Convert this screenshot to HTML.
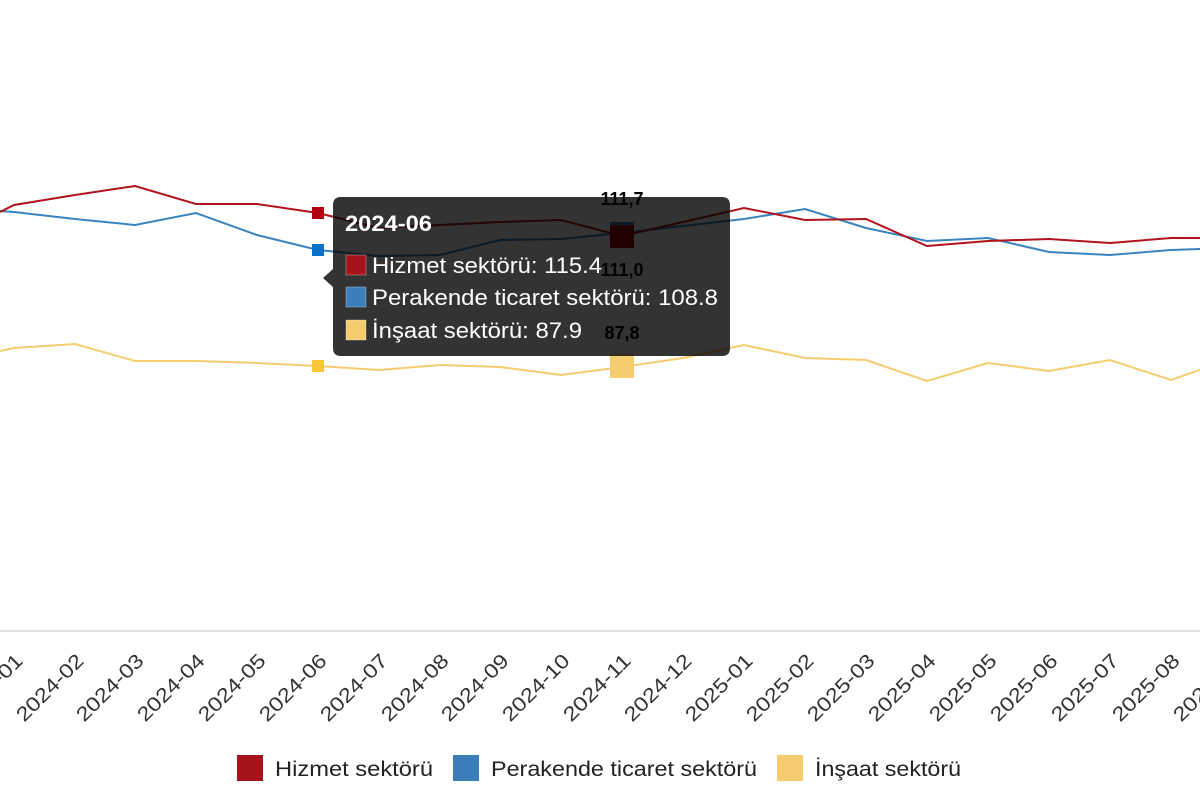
<!DOCTYPE html>
<html><head><meta charset="utf-8"><style>
body{margin:0;background:#fff;}
svg{display:block;font-family:"Liberation Sans",sans-serif;}
</style></head><body>
<svg width="1200" height="800" viewBox="0 0 1200 800">
<line x1="0" y1="631" x2="1200" y2="631" stroke="#e0e0e0" stroke-width="2"/>
<polyline fill="none" stroke="#f5cd6e" stroke-width="2" points="0,351 14,348 75,344 135,361 196,361 257,363 318,366 379,370 440,365 500,367 561,375 622,367 683,358 744,345 805,358 866,360 927,381 988,363 1049,371 1110,360 1171,380 1200,370"/>
<polyline fill="none" stroke="#3a84c0" stroke-width="2" points="0,211 14,212 75,219 135,225 196,213 257,235 318,250 379,256 440,255 500,240 561,239 622,233 683,226 744,219 805,209 866,228 927,241 988,238 1049,252 1110,255 1171,250 1200,249"/>
<polyline fill="none" stroke="#b0141c" stroke-width="2" points="0,212 14,205 75,195 135,186 196,204 257,204 318,213 379,228 440,225 500,222 561,220 622,236 683,222 744,208 805,220 866,219 927,246 988,241 1049,239 1110,243 1171,238 1200,238"/>
<rect x="312" y="207" width="12" height="12" fill="#b00010"/>
<rect x="312" y="244" width="12" height="12" fill="#0a72c8"/>
<rect x="312" y="360" width="12" height="12" fill="#fcc53a"/>
<rect x="610" y="354" width="24" height="24" fill="#f5cd6e"/>
<g font-weight="bold" font-size="18" fill="#000" text-anchor="middle">
<text x="622" y="205">111,7</text>
<text x="622" y="276">111,0</text>
<text x="622" y="339">87,8</text>
</g>
<g>
<path d="M341,197 H722 Q730,197 730,205 V348 Q730,356 722,356 H341 Q333,356 333,348 V287 L323,278 L333,269 V205 Q333,197 341,197 Z" fill="rgba(0,0,0,0.8)"/>
<rect x="610" y="222" width="24" height="26" fill="#220000"/>
<rect x="610" y="222" width="24" height="3" fill="#0a1a28"/>
<text x="345" y="231" font-size="22" font-weight="bold" fill="#fff" textLength="87" lengthAdjust="spacingAndGlyphs">2024-06</text>
<rect x="346" y="255" width="20" height="20" fill="#a8141c" stroke="#fff" stroke-opacity="0.3"/>
<text x="372" y="273" font-size="22" fill="#fff" textLength="230" lengthAdjust="spacingAndGlyphs">Hizmet sektörü: 115.4</text>
<rect x="346" y="287" width="20" height="20" fill="#3a7fbb" stroke="#fff" stroke-opacity="0.3"/>
<text x="372" y="305" font-size="22" fill="#fff" textLength="346" lengthAdjust="spacingAndGlyphs">Perakende ticaret sektörü: 108.8</text>
<rect x="346" y="320" width="20" height="20" fill="#f5cd6e" stroke="#fff" stroke-opacity="0.3"/>
<text x="372" y="338" font-size="22" fill="#fff" textLength="210" lengthAdjust="spacingAndGlyphs">İnşaat sektörü: 87.9</text>
</g>
<g font-size="20" fill="#333" text-anchor="end">
<text transform="translate(24,662) rotate(-45)" textLength="86" lengthAdjust="spacingAndGlyphs">2024-01</text>
<text transform="translate(85,662) rotate(-45)" textLength="86" lengthAdjust="spacingAndGlyphs">2024-02</text>
<text transform="translate(145,662) rotate(-45)" textLength="86" lengthAdjust="spacingAndGlyphs">2024-03</text>
<text transform="translate(206,662) rotate(-45)" textLength="86" lengthAdjust="spacingAndGlyphs">2024-04</text>
<text transform="translate(267,662) rotate(-45)" textLength="86" lengthAdjust="spacingAndGlyphs">2024-05</text>
<text transform="translate(328,662) rotate(-45)" textLength="86" lengthAdjust="spacingAndGlyphs">2024-06</text>
<text transform="translate(389,662) rotate(-45)" textLength="86" lengthAdjust="spacingAndGlyphs">2024-07</text>
<text transform="translate(450,662) rotate(-45)" textLength="86" lengthAdjust="spacingAndGlyphs">2024-08</text>
<text transform="translate(510,662) rotate(-45)" textLength="86" lengthAdjust="spacingAndGlyphs">2024-09</text>
<text transform="translate(571,662) rotate(-45)" textLength="86" lengthAdjust="spacingAndGlyphs">2024-10</text>
<text transform="translate(632,662) rotate(-45)" textLength="86" lengthAdjust="spacingAndGlyphs">2024-11</text>
<text transform="translate(693,662) rotate(-45)" textLength="86" lengthAdjust="spacingAndGlyphs">2024-12</text>
<text transform="translate(754,662) rotate(-45)" textLength="86" lengthAdjust="spacingAndGlyphs">2025-01</text>
<text transform="translate(815,662) rotate(-45)" textLength="86" lengthAdjust="spacingAndGlyphs">2025-02</text>
<text transform="translate(876,662) rotate(-45)" textLength="86" lengthAdjust="spacingAndGlyphs">2025-03</text>
<text transform="translate(937,662) rotate(-45)" textLength="86" lengthAdjust="spacingAndGlyphs">2025-04</text>
<text transform="translate(998,662) rotate(-45)" textLength="86" lengthAdjust="spacingAndGlyphs">2025-05</text>
<text transform="translate(1059,662) rotate(-45)" textLength="86" lengthAdjust="spacingAndGlyphs">2025-06</text>
<text transform="translate(1120,662) rotate(-45)" textLength="86" lengthAdjust="spacingAndGlyphs">2025-07</text>
<text transform="translate(1181,662) rotate(-45)" textLength="86" lengthAdjust="spacingAndGlyphs">2025-08</text>
<text transform="translate(1242,662) rotate(-45)" textLength="86" lengthAdjust="spacingAndGlyphs">2025-09</text>
</g>
<g font-size="21" fill="#222">
<rect x="237" y="755" width="26" height="26" fill="#a8141c"/>
<text x="275" y="776" textLength="158" lengthAdjust="spacingAndGlyphs">Hizmet sektörü</text>
<rect x="453" y="755" width="26" height="26" fill="#3a7fbb"/>
<text x="491" y="776" textLength="266" lengthAdjust="spacingAndGlyphs">Perakende ticaret sektörü</text>
<rect x="777" y="755" width="26" height="26" fill="#f5cd6e"/>
<text x="815" y="776" textLength="146" lengthAdjust="spacingAndGlyphs">İnşaat sektörü</text>
</g>
</svg>
</body></html>
